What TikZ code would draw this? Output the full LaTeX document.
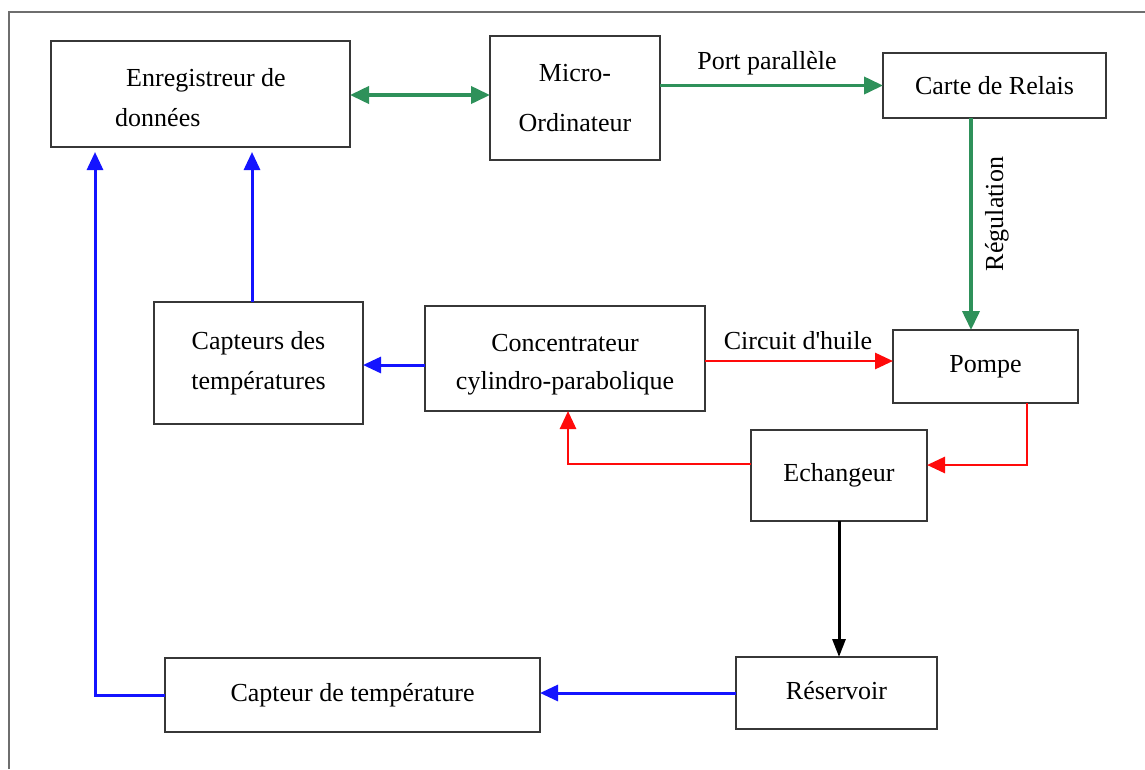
\documentclass[tikz,border=0pt]{standalone}
\usepackage{fontspec}
\setmainfont{Liberation Serif}
\newfontfamily\nolig{Liberation Serif}
\usetikzlibrary{arrows.meta,calc}
\definecolor{grn}{RGB}{46,145,90}
\definecolor{blu}{RGB}{20,20,255}
\definecolor{rd}{RGB}{255,10,10}
\definecolor{frm}{RGB}{110,110,110}
\definecolor{bxc}{RGB}{55,55,55}
\begin{document}
\begin{tikzpicture}[x=1pt,y=-1pt,
  box/.style={draw=bxc,line width=2.2pt,inner sep=0pt,outer sep=0pt,align=center,
    font=\fontsize{26}{38}\selectfont},
  lbl/.style={inner sep=0pt,font=\fontsize{26}{32}\selectfont},
  garr/.style={draw=grn,line width=3.8pt,-{Triangle[length=19pt,width=17pt]}},
  gdbl/.style={draw=grn,line width=3.8pt,{Triangle[length=19pt,width=17pt]}-{Triangle[length=19pt,width=17pt]}},
  barr/.style={draw=blu,line width=3pt,-{Triangle[length=18pt,width=16pt]}},
  rarr/.style={draw=rd,line width=2.8pt,-{Triangle[length=18pt,width=16pt]}},
  karr/.style={draw=black,line width=3pt,-{Triangle[length=18pt,width=13pt]}}]
\useasboundingbox (0,0) rectangle (1145,769);
\fill[white] (0,0) rectangle (1145,769);
% outer frame
\draw[frm,line width=2.5pt] (9,769) -- (9,12) -- (1145,12);
% boxes
\node[box,minimum width=299,minimum height=106,align=left] (enr) at (200.5,94) {\rule{0pt}{26pt}\hspace*{11pt}Enregistreur de\\[2pt]données};
\node[box,minimum width=170,minimum height=124] (micro) at (575,98) {Micro-\\[12pt]Ordinateur};
\node[box,minimum width=223,minimum height=65] (carte) at (994.5,85.5) {Carte de Relais};
\node[box,minimum width=209,minimum height=122] (caps) at (258.5,363) {Capteurs des\\[2pt]températures};
\node[box,minimum width=280,minimum height=105] (conc) at (565,358.5) {\rule{0pt}{30pt}Concentrateur\\cylindro-parabolique};
\node[box,minimum width=185,minimum height=73] (pompe) at (985.5,366.5) {Pompe};
\node[box,minimum width=176,minimum height=91] (ech) at (839,475.5) {Echangeur};
\node[box,minimum width=201,minimum height=72] (res) at (836.5,693) {\raisebox{5pt}{Réservoir}};
\node[box,minimum width=375,minimum height=74] (cap) at (352.5,695) {Capteur de température};
% labels
\node[lbl] (lport) at (767,63) {Port parallèle};
\node[lbl,font=\fontsize{26}{32}\nolig] (lcirc) at (798,341) {Circuit d'huile};
\node[lbl,rotate=90] (lreg) at (997,214) {Régulation};
% green connectors
\draw[gdbl] ([yshift=-1]enr.east) -- ([yshift=-1]enr.east -| micro.west);
\draw[garr] (micro.east |- carte.west) -- (carte.west);
\draw[garr] ([xshift=-23.5]carte.south) -- ([xshift=-23.5]carte.south |- pompe.north);
% red connectors
\draw[rarr] ([yshift=-2.5]conc.east) -- ([yshift=-2.5]conc.east -| pompe.west);
\draw[rarr] ([xshift=41.5]pompe.south) |- ([yshift=10.5]ech.east);
\draw[rarr] ([yshift=11.5]ech.west) -| ([xshift=3]conc.south);
% blue connectors
\draw[barr] ([yshift=-6.5]conc.west) -- ([yshift=-6.5]conc.west -| caps.east);
\draw[barr] ([xshift=-6.5]caps.north) -- ([xshift=-6.5,yshift=-5]caps.north |- enr.south);
\draw[barr] (res.west) -- (res.west -| cap.east);
\draw[barr] (cap.west) -| ([xshift=-105.5,yshift=-5]enr.south);
% black connector
\draw[karr] (ech.south) -- (ech.south |- res.north);
\end{tikzpicture}
\end{document}
